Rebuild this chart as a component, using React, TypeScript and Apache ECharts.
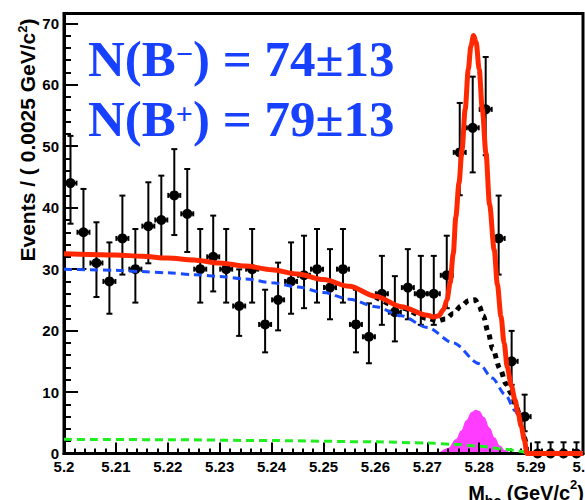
import React, { useEffect, useRef } from "react";
import * as echarts from "echarts";

// Mbc histogram: 40 bins of 0.0025 GeV/c^2 between 5.20 and 5.30
const binWidth = 0.0025;
const binCenters = [
  5.20125, 5.20375, 5.20625, 5.20875, 5.21125, 5.21375, 5.21625, 5.21875, 5.22125, 5.22375,
  5.22625, 5.22875, 5.23125, 5.23375, 5.23625, 5.23875, 5.24125, 5.24375, 5.24625, 5.24875,
  5.25125, 5.25375, 5.25625, 5.25875, 5.26125, 5.26375, 5.26625, 5.26875, 5.27125, 5.27375,
  5.27625, 5.27875, 5.28125, 5.28375, 5.28625, 5.28875, 5.29125, 5.29375, 5.29625, 5.29875,
];
const eventCounts = [
  44, 36, 31, 28, 35, 30, 37, 38, 42, 39,
  30, 32, 30, 24, 30, 21, 25, 28, 29, 30,
  27, 30, 21, 19, 26, 23, 27, 26, 26, 29,
  49, 53, 56, 35, 15, 6, 0, 0, 0, 0,
];

// Total fit (signal + all backgrounds)
const totalFitX = [
  5.2, 5.205, 5.21, 5.215, 5.22, 5.225, 5.23, 5.235, 5.24, 5.245, 5.25, 5.255, 5.26, 5.265,
  5.27, 5.2712, 5.2722, 5.2731, 5.2738, 5.2744, 5.275, 5.2755, 5.2761, 5.2767, 5.2773, 5.2779,
  5.2784, 5.2789, 5.2794, 5.28, 5.2806, 5.2813, 5.282, 5.2829, 5.2835, 5.2842, 5.2848, 5.2854,
  5.2862, 5.2869, 5.2875, 5.2881, 5.2887, 5.2892, 5.3,
];
const totalFitY = [
  32.5, 32.4, 32.3, 32.1, 31.8, 31.5, 31.0, 30.5, 29.9, 29.2, 28.3, 27.2, 25.6, 23.9,
  22.5, 22.2, 22.4, 23.4, 25.0, 27.8, 32.5, 38.5, 44.0, 49.5, 56.0, 62.5,
  66.3, 68.0, 67.0, 62.5, 56.0, 48.9, 40.5, 33.1, 27.5, 22.3, 18.0, 14.1,
  11.0, 8.7, 6.6, 4.4, 2.2, 0, 0,
];

// Continuum (ARGUS) component
const continuumX = [
  5.2, 5.205, 5.21, 5.215, 5.22, 5.225, 5.23, 5.235, 5.24, 5.245, 5.25, 5.255, 5.26, 5.265,
  5.27, 5.275, 5.28, 5.2825, 5.285, 5.287, 5.288, 5.2886, 5.2892,
];
const continuumY = [
  30.0, 29.9, 29.8, 29.6, 29.4, 29.1, 28.8, 28.4, 27.8, 27.1, 26.2, 25.1, 23.9, 22.4,
  20.5, 18.0, 14.6, 12.3, 9.6, 6.9, 5.0, 3.2, 0,
];

// Flat combinatorial B background
const combinatorialX = [5.2, 5.22, 5.24, 5.26, 5.27, 5.275, 5.28, 5.285, 5.288, 5.2892];
const combinatorialY = [2.3, 2.25, 2.1, 1.9, 1.7, 1.5, 1.2, 0.7, 0.35, 0];

// Sum of all background components
const totalBkgX = [
  5.26, 5.265, 5.27, 5.272, 5.2735, 5.275, 5.2765, 5.278, 5.2792, 5.28, 5.2808, 5.2817,
  5.2826, 5.284, 5.2852, 5.2862, 5.2872, 5.2882, 5.2888, 5.2892,
];
const totalBkgY = [
  25.5, 23.7, 22.0, 21.6, 21.9, 22.8, 24.0, 24.9, 25.0, 24.0, 22.4, 19.8,
  17.0, 13.8, 11.3, 9.7, 7.5, 4.8, 2.5, 0,
];

// Peaking background
const peakingX = [
  5.27, 5.272, 5.274, 5.2755, 5.2765, 5.2775, 5.2785, 5.2793, 5.28, 5.281, 5.282, 5.283,
  5.284, 5.285, 5.286, 5.2875,
];
const peakingY = [0, 0.2, 0.9, 2.3, 3.7, 5.4, 6.7, 7.1, 6.9, 5.9, 4.2, 2.6, 1.3, 0.55, 0.2, 0];

const yieldLines = [
  { sign: "\u2212", text: ") = 74\u00b113" },
  { sign: "+", text: ") = 79\u00b113" },
];

// Gehrels approximations of the 68% Poisson interval
function poissonLow(n: number) {
  if (n === 0) return 0;
  const t = 1 - 1 / (9 * n) - 1 / (3 * Math.sqrt(n));
  return n - n * t * t * t;
}
function poissonHigh(n: number) {
  const m = n + 1;
  const t = 1 - 1 / (9 * m) + 1 / (3 * Math.sqrt(m));
  return m * t * t * t - n;
}

const zip = (xs: number[], ys: number[]) => xs.map((x, i) => [x, ys[i]]);

const SANS = "Liberation Sans";
const SERIF = "Liberation Serif";
const BLUE = "#1740ff";

export default function App() {
  const ref = useRef<HTMLDivElement>(null);

  useEffect(() => {
    if (!ref.current) return;
    const chart = echarts.init(ref.current, undefined, { renderer: "svg" });

    const points = binCenters.map((x, i) => [x, eventCounts[i], poissonLow(eventCounts[i]), poissonHigh(eventCounts[i])]);

    const axisLabel = {
      color: "#000",
      fontFamily: SANS,
      fontWeight: "bold" as const,
      fontSize: 15,
    };

    const option: any = {
      animation: false,
      backgroundColor: "#fff",
      grid: {
        left: 64,
        top: 13.5,
        width: 519,
        height: 440,
        show: true,
        borderColor: "#000",
        borderWidth: 3,
        backgroundColor: "transparent",
        containLabel: false,
        outerBoundsMode: "none",
      },
      xAxis: {
        type: "value",
        min: 5.2,
        max: 5.3,
        interval: 0.01,
        z: 1.5,
        axisLine: { lineStyle: { color: "#000", width: 3 } },
        axisTick: { inside: true, length: 11, lineStyle: { color: "#000", width: 2 } },
        minorTick: { show: true, splitNumber: 5, length: 5, lineStyle: { color: "#000", width: 2 } },
        splitLine: { show: false },
        axisLabel: {
          ...axisLabel,
          margin: 5,
          hideOverlap: false,
          alignMinLabel: "center",
          alignMaxLabel: "center",
          formatter: (v: number) => String(+v.toFixed(2)),
        },
      },
      yAxis: {
        type: "value",
        min: 0,
        max: 71.6,
        interval: 10,
        z: 1.5,
        axisLine: { lineStyle: { color: "#000", width: 3 } },
        axisTick: { inside: true, length: 14, lineStyle: { color: "#000", width: 2 } },
        minorTick: { show: true, splitNumber: 5, length: 7, lineStyle: { color: "#000", width: 2 } },
        splitLine: { show: false },
        axisLabel: {
          ...axisLabel,
          margin: 5,
          formatter: (v: number) => (Math.abs(v % 10) < 1e-6 ? String(Math.round(v)) : ""),
        },
      },
      graphic: [
        ...yieldLines.map((l, k) => ({
          type: "text",
          x: 88,
          y: 59 + 60 * k,
          z: 10,
          style: {
            text: `{b|N(B}{s|${l.sign}}{b|${l.text}}`,
            verticalAlign: "middle",
            align: "left",
            rich: {
              b: { fontFamily: SERIF, fontWeight: "bold", fontSize: 51, fill: BLUE },
              s: { fontFamily: SERIF, fontWeight: "bold", fontSize: 30, fill: BLUE, padding: [0, 0, 12, 0] },
            },
          },
        })),
        {
          type: "text",
          x: 27,
          y: 140,
          rotation: Math.PI / 2,
          style: {
            text: "{a|Events / ( 0.0025 GeV/c}{s|2}{a|)}",
            align: "center",
            verticalAlign: "middle",
            rich: {
              a: { fontFamily: SANS, fontWeight: "bold", fontSize: 21, fill: "#000", lineHeight: 22 },
              s: { fontFamily: SANS, fontWeight: "bold", fontSize: 13, fill: "#000", lineHeight: 13, verticalAlign: "top" },
            },
          },
        },
        {
          type: "text",
          x: 584,
          y: 493,
          style: {
            text: "{a|M}{b|bc}{a| (GeV/c}{s|2}{a|)}",
            align: "right",
            verticalAlign: "middle",
            rich: {
              a: { fontFamily: SANS, fontWeight: "bold", fontSize: 20, fill: "#000", lineHeight: 30 },
              b: { fontFamily: SANS, fontWeight: "bold", fontSize: 14, fill: "#000", lineHeight: 18, verticalAlign: "bottom" },
              s: { fontFamily: SANS, fontWeight: "bold", fontSize: 13, fill: "#000", lineHeight: 16, verticalAlign: "top" },
            },
          },
        },
      ],
      series: [
        {
          type: "custom",
          z: 1.2,
          data: points,
          encode: { x: 0, y: 1 },
          renderItem: (_params: any, api: any) => {
            const x = api.value(0);
            const n = api.value(1);
            const lo = api.value(2);
            const hi = api.value(3);
            const p = api.coord([x, n]);
            const pt = api.coord([x, n + hi]);
            const pb = api.coord([x, n - lo]);
            const pl = api.coord([x - binWidth / 2, n]);
            const pr = api.coord([x + binWidth / 2, n]);
            const st = { stroke: "#000", lineWidth: 2 };
            const children: any[] = [
              { type: "line", shape: { x1: p[0], y1: pt[1], x2: p[0], y2: pb[1] }, style: st },
              { type: "line", shape: { x1: p[0] - 3, y1: pt[1], x2: p[0] + 3, y2: pt[1] }, style: st },
              { type: "line", shape: { x1: pl[0] + 0.5, y1: p[1], x2: pr[0] - 0.5, y2: p[1] }, style: st },
              { type: "line", shape: { x1: pl[0] + 0.5, y1: p[1] - 2.5, x2: pl[0] + 0.5, y2: p[1] + 2.5 }, style: st },
              { type: "line", shape: { x1: pr[0] - 0.5, y1: p[1] - 2.5, x2: pr[0] - 0.5, y2: p[1] + 2.5 }, style: st },
              { type: "circle", shape: { cx: p[0], cy: p[1], r: 5 }, style: { fill: "#000" } },
            ];
            if (lo > 0) {
              children.push({ type: "line", shape: { x1: p[0] - 3, y1: pb[1], x2: p[0] + 3, y2: pb[1] }, style: st });
            }
            return { type: "group", children };
          },
        },
        {
          type: "line",
          z: 2,
          data: zip(combinatorialX, combinatorialY),
          showSymbol: false,
          smooth: 0.3,
          smoothMonotone: "x",
          lineStyle: { color: "#1fee1f", width: 3, type: [8, 5] },
        },
        {
          type: "line",
          z: 1,
          data: zip(peakingX, peakingY),
          showSymbol: false,
          smooth: 0.4,
          smoothMonotone: "x",
          lineStyle: { width: 0 },
          areaStyle: { color: "#ff3cff", opacity: 1 },
        },
        {
          type: "line",
          z: 2,
          data: zip(continuumX, continuumY),
          showSymbol: false,
          smooth: 0.3,
          smoothMonotone: "x",
          lineStyle: { color: "#1a4cff", width: 3, type: [8, 5] },
        },
        {
          type: "line",
          z: 2,
          data: zip(totalBkgX, totalBkgY),
          showSymbol: false,
          smooth: 0.3,
          smoothMonotone: "x",
          lineStyle: { color: "#000", width: 5, type: [5, 5] },
        },
        {
          type: "line",
          z: 2,
          data: zip(totalFitX, totalFitY),
          showSymbol: false,
          smooth: 0.3,
          smoothMonotone: "x",
          lineStyle: { color: "#ff2800", width: 5 },
        },
      ],
    };

    chart.setOption(option);
    return () => chart.dispose();
  }, []);

  return (
    <div
      ref={ref}
      style={{ position: "fixed", left: 0, top: 0, width: 585, height: 500, background: "#fff" }}
    />
  );
}
